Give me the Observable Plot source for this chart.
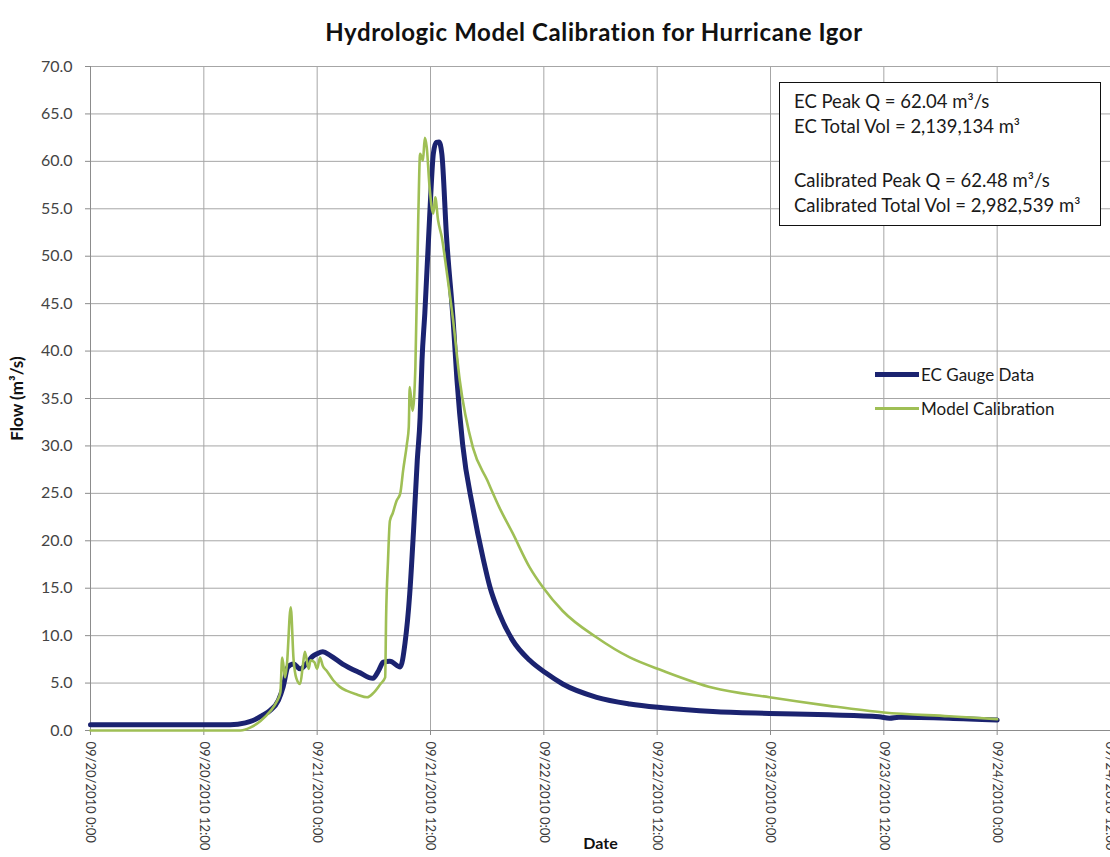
<!DOCTYPE html>
<html><head><meta charset="utf-8">
<script src="https://cdn.jsdelivr.net/npm/d3@7"></script>
<script src="https://cdn.jsdelivr.net/npm/@observablehq/plot@0.6"></script>
<style>
body{margin:0;background:#fff;font-family:Lato,"Open Sans",sans-serif;}
#wrap{position:relative;width:1110px;height:857px;overflow:hidden;background:#fff;}
#title{height:50px;box-sizing:border-box;padding-top:17px;line-height:30px;text-align:center;font-weight:bold;font-size:24px;letter-spacing:0.6px;color:#111;padding-left:78px;}
#chart svg{display:block;}
#note{position:absolute;left:779px;top:82px;width:322px;height:144px;border:1.5px solid #111;background:#fff;box-sizing:border-box;padding:6px 0 0 14px;font-size:18.5px;line-height:25px;color:#1a1a1a;white-space:nowrap;overflow:visible;}
#legend{position:absolute;left:875px;top:357px;font-size:17px;color:#1a1a1a;}
.lg{display:flex;align-items:center;height:34px;}
.sw{width:44px;margin-right:2px;}
</style></head><body>
<div id="wrap">
<div id="title"></div>
<div id="chart"></div>
<div id="note"></div>
<div id="legend"></div>
</div>
<script>
// ---------- data ----------
const titleText = "Hydrologic Model Calibration for Hurricane Igor";
const seriesNames = ["EC Gauge Data", "Model Calibration"];
const seriesColors = ["#1b2370", "#9fbf55"];
// hours since 09/20/2010 0:00
const ecHours = [0,14.8,16.4,17.2,18.2,19.0,19.9,20.4,20.9,21.5,22.2,22.9,23.5,24.0,24.6,25.4,26.7,28.5,29.9,30.5,31.0,31.7,32.8,33.3,33.8,34.2,34.6,34.9,35.1,35.4,35.9,36.3,36.6,36.9,37.2,37.7,38.4,38.8,39.4,40.5,41.6,42.3,43.3,44.7,46.5,48.3,50.0,53.6,57.1,60.6,65.9,71.9,78.2,83.5,84.6,85.6,90.9,96.0];
const ecFlow  = [0.6,0.6,0.8,1.05,1.6,2.1,3.2,4.6,6.7,7.0,6.5,7.1,7.8,8.1,8.3,7.9,7.0,6.1,5.5,6.3,7.2,7.3,6.7,9.2,14.4,21,28.5,33,39,44,54,60.8,62.0,62.04,60.8,52,43.2,37,30.2,23.4,18.0,15.1,12.3,9.5,7.4,6.0,4.9,3.5,2.8,2.4,2.0,1.8,1.65,1.45,1.3,1.4,1.3,1.1];
const modelHours = [0,15.9,16.9,18.0,19.0,19.7,20.1,20.3,20.6,20.8,21.2,21.5,21.8,22.2,22.5,22.7,23.1,23.3,23.7,24.0,24.3,24.6,25.0,25.7,26.4,27.1,28.2,29.3,29.9,30.7,31.2,31.3,31.5,31.7,32.0,32.4,32.8,33.1,33.5,33.7,33.8,34.1,34.4,34.7,34.9,35.2,35.4,35.6,35.9,36.3,36.5,36.8,37.2,37.7,38.4,39.1,40.5,42.0,43.3,44.7,46.5,47.9,50.0,53.6,57.1,60.6,65.9,71.9,78.2,84.0,90.9,96.0];
const modelFlow  = [0.0,0.0,0.3,1.0,2.0,3.0,4.0,7.7,5.6,7.0,13.0,7.5,5.5,4.9,7.0,8.3,6.5,7.4,7.2,6.5,7.7,6.8,6.3,5.3,4.6,4.2,3.8,3.5,3.9,4.9,5.6,12,17.9,22.1,22.9,24.2,25,27.4,30.2,32,36.2,33.7,38.3,53.8,60.8,60.1,62.48,61.5,57.3,54.5,56.2,53.8,52,48.5,43.2,36.9,29.8,26.4,23.5,20.8,17.2,15.1,12.6,9.8,7.7,6.3,4.5,3.5,2.6,1.9,1.5,1.2];
const xTickHours = [0,12,24,36,48,60,72,84,96,108];
const yTicks = [0,5,10,15,20,25,30,35,40,45,50,55,60,65,70];
const noteLines = ["EC Peak Q = 62.04 m³/s","EC Total Vol = 2,139,134 m³","","Calibrated Peak Q = 62.48 m³/s","Calibrated Total Vol = 2,982,539 m³"];
const xLabel = "Date";
const yLabel = "Flow (m³/s)";

// ---------- build ----------
const t0 = Date.UTC(2010, 8, 20);
const toDate = h => new Date(t0 + h * 3600e3);
const ec = ecHours.map((h, i) => ({t: toDate(h), q: ecFlow[i]}));
const model = modelHours.map((h, i) => ({t: toDate(h), q: modelFlow[i]}));
const xTicks = xTickHours.map(toDate);
const fmt = d => d3.utcFormat("%m/%d/%Y")(d) + " " + d.getUTCHours() + ":" + d3.utcFormat("%M")(d);

document.getElementById("title").textContent = titleText;

const plot = Plot.plot({
  width: 1110,
  height: 807,
  marginTop: 16,
  marginBottom: 127,
  marginLeft: 90,
  marginRight: 0,
  style: {fontFamily: "Lato, 'Open Sans', sans-serif", background: "#fff", overflow: "visible"},
  x: {type: "utc", domain: [toDate(0), toDate(108)]},
  y: {domain: [0, 70]},
  marks: [
    Plot.gridX(xTicks, {stroke: "#a6a6a6", strokeOpacity: 1}),
    Plot.gridY(yTicks, {stroke: "#a6a6a6", strokeOpacity: 1}),
    Plot.ruleX([toDate(0)], {stroke: "#8c8c8c"}),
    Plot.ruleY([0], {stroke: "#8c8c8c"}),
    Plot.axisX({ticks: xTicks, tickFormat: fmt, tickRotate: 90, tickSize: 5, tickPadding: 6, fontSize: 13, fill: "#3a3a3a", stroke: "#8c8c8c", label: xLabel, labelAnchor: "center", labelOffset: 118, labelArrow: "none"}),
    Plot.axisY({ticks: yTicks, tickFormat: d => d.toFixed(1), tickSize: 5, tickPadding: 13, fontSize: 16, fill: "#444", stroke: "#8c8c8c", label: yLabel, labelAnchor: "center", labelOffset: 80, labelArrow: "none"}),
    Plot.line(ec, {x: "t", y: "q", stroke: seriesColors[0], strokeWidth: 5, curve: "monotone-x"}),
    Plot.line(model, {x: "t", y: "q", stroke: seriesColors[1], strokeWidth: 2.6, curve: "monotone-x"})
  ]
});
document.getElementById("chart").appendChild(plot);

// bold axis titles
plot.querySelectorAll("text").forEach(t => {
  if (t.textContent === xLabel || t.textContent === yLabel) {
    t.setAttribute("font-weight", "bold");
    t.setAttribute("font-size", t.textContent === yLabel ? "17" : "16");
    t.setAttribute("fill", "#111");
  }
});

// annotation box
const note = document.getElementById("note");
noteLines.forEach(s => {
  const d = document.createElement("div");
  d.textContent = s || "\u00a0";
  if (!s) d.style.height = "29px";
  note.appendChild(d);
});

// legend
const lg = document.getElementById("legend");
seriesNames.forEach((n, i) => {
  const row = document.createElement("div");
  row.className = "lg";
  const sw = document.createElement("div");
  sw.className = "sw";
  sw.style.height = (i === 0 ? 5 : 3) + "px";
  sw.style.background = seriesColors[i];
  const tx = document.createElement("span");
  tx.textContent = n;
  row.appendChild(sw); row.appendChild(tx);
  lg.appendChild(row);
});
</script>
</body></html>
